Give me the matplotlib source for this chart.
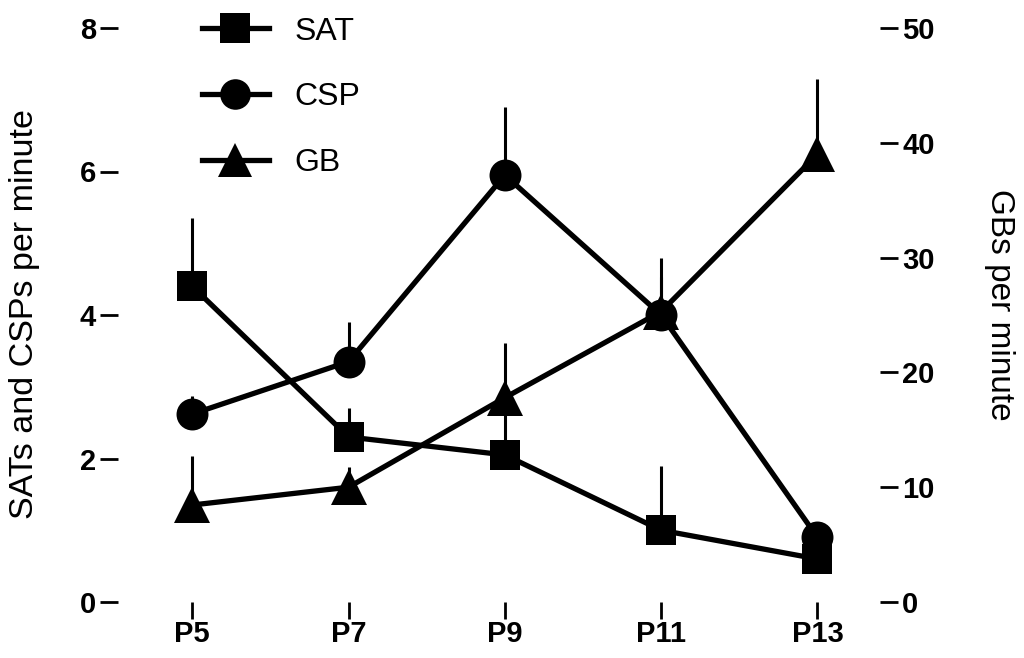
import matplotlib
matplotlib.use("Agg")
import matplotlib.pyplot as plt
import numpy as np
from matplotlib.lines import Line2D

# ---- data ----
ages = [5, 7, 9, 11, 13]
age_labels = ["P5", "P7", "P9", "P11", "P13"]
sat = [4.4, 2.3, 2.05, 1.0, 0.6]
sat_err = [0.95, 0.4, 0.6, 0.9, 0.0]
csp = [2.62, 3.35, 5.95, 4.0, 0.9]
csp_err = [0.25, 0.55, 0.95, 0.8, 0.0]
gb = [8.45, 10.0, 17.8, 25.3, 39.0]
gb_err = [4.3, 1.8, 4.8, 3.0, 6.6]
left_ticks = [0, 2, 4, 6, 8]
right_ticks = [0, 10, 20, 30, 40, 50]

plt.rcParams['font.family'] = ['Liberation Sans', 'DejaVu Sans']

fig = plt.figure(figsize=(10.24, 6.58), dpi=100)
W, H = 1024, 658
ax = fig.add_axes([118 / W, 1 - 602 / H, (880 - 118) / W, (602 - 28) / H])
ax2 = ax.twinx()

lw = 3.8
elw = 2.2
col = "black"

def series(a, x, y, e, marker, ms, z):
    a.errorbar(x, y, yerr=[np.zeros(len(e)), e], fmt="none", ecolor=col,
               elinewidth=elw, capsize=0, zorder=z)
    a.plot(x, y, color=col, lw=lw, marker=marker, ms=ms, mec=col, mfc=col,
           mew=0, zorder=z + 1, solid_joinstyle="miter")

series(ax2, ages, gb, gb_err, "^", 26, 2)
series(ax, ages, csp, csp_err, "o", 23, 3)
series(ax, ages, sat, sat_err, "s", 22, 5)

ax.set_zorder(ax2.get_zorder() + 1)
ax.patch.set_visible(False)

ax.set_xlim(4.05, 13.8)
ax.set_ylim(0, 8)
ax2.set_ylim(0, 50)

for a in (ax, ax2):
    for s in a.spines.values():
        s.set_visible(False)

tickfont = dict(fontsize=21, fontweight="bold")
ax.set_xticks(ages)
ax.set_xticklabels(age_labels, **tickfont)
ax.set_yticks(left_ticks)
ax.set_yticklabels([str(t) for t in left_ticks], **tickfont)
ax2.set_yticks(right_ticks)
ax2.set_yticklabels([str(t) for t in right_ticks], **tickfont)

ax.tick_params(axis="y", direction="out", length=13, width=2, pad=3, color=col)
ax.tick_params(axis="x", direction="out", length=12, width=2, pad=1, color=col)
ax2.tick_params(axis="y", direction="out", length=13, width=2, pad=3, color=col)

fig.text(25 / W, 1 - 314 / H, "SATs and CSPs per minute", fontsize=24.5,
         rotation=90, ha="center", va="center")
fig.text(1000 / W, 1 - 305 / H, "GBs per minute", fontsize=24,
         rotation=270, ha="center", va="center")

handles = [
    Line2D([], [], color=col, lw=lw, marker="s", ms=21, mew=0),
    Line2D([], [], color=col, lw=lw, marker="o", ms=22, mew=0),
    Line2D([], [], color=col, lw=lw, marker="^", ms=24, mew=0),
]
ax.legend(handles, ["SAT", "CSP", "GB"], loc="upper left",
          bbox_to_anchor=(0.072, 1.07), frameon=False, fontsize=23,
          handlelength=2.1, handletextpad=0.8, labelspacing=1.12)

fig.savefig("out.png", dpi=100)
